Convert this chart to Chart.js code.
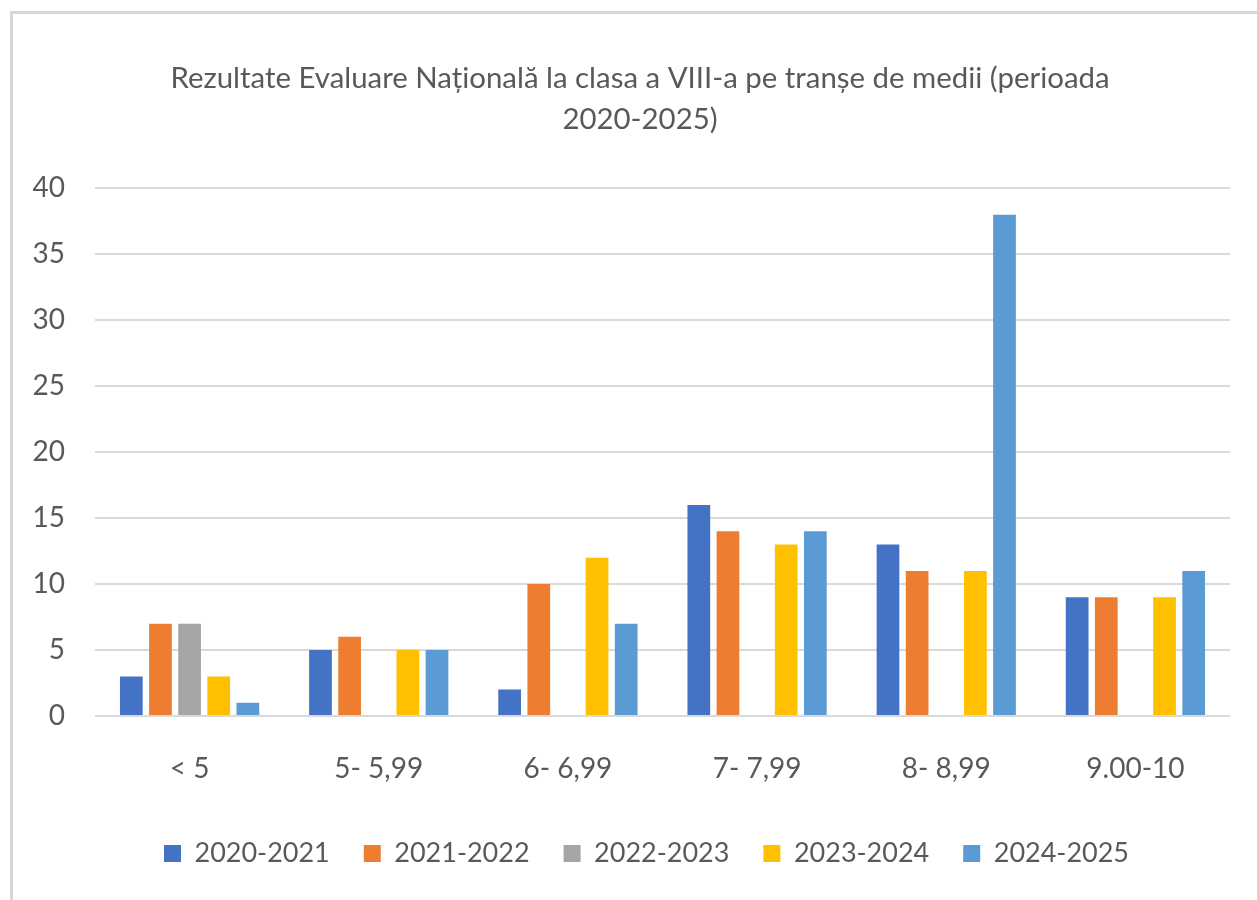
<!DOCTYPE html>
<html>
<head>
<meta charset="utf-8">
<script src="https://cdn.jsdelivr.net/npm/chart.js@4.4.1/dist/chart.umd.min.js"></script>
<style>
  html, body { margin: 0; padding: 0; background: #fff; overflow: hidden; }
  #frame {
    position: absolute; left: 10px; top: 11px;
    width: 1262px; height: 892px;
    border-left: 3px solid #d6d6d6; border-top: 3px solid #d6d6d6;
  }
  #box { position: relative; width: 1262px; height: 892px; }
</style>
</head>
<body>
<div id="frame"><div id="box"><canvas id="resultsChart"></canvas></div></div>
<script>
const categories = ['< 5', '5- 5,99', '6- 6,99', '7- 7,99', '8- 8,99', '9.00-10'];
const seriesNames = ['2020-2021', '2021-2022', '2022-2023', '2023-2024', '2024-2025'];
const values2020 = [3, 5, 2, 16, 13, 9];
const values2021 = [7, 6, 10, 14, 11, 9];
const values2022 = [7, null, null, null, null, null];
const values2023 = [3, 5, 12, 13, 11, 9];
const values2024 = [1, 5, 7, 14, 38, 11];
const yTicks = [0, 5, 10, 15, 20, 25, 30, 35, 40];
const colors = ['#4472C4', '#ED7D31', '#A5A5A5', '#FFC000', '#5B9BD5'];

const allValues = [values2020, values2021, values2022, values2023, values2024];
const fontFamily = "Lato, 'Open Sans', sans-serif";
const textColor = '#595959';

let chart = null;

// title and legend are centred a bit right of the plot in the original
const shiftBlocks = {
    id: 'shiftBlocks',
    afterLayout(c) {
        c.titleBlock.left += 37;
        c.legend.left += 50;
    }
};

function initChart() {
    const ctx = document.getElementById('resultsChart').getContext('2d');
    chart = new Chart(ctx, {
        type: 'bar',
        data: {
            labels: categories,
            datasets: seriesNames.map((name, i) => ({
                label: name,
                data: allValues[i],
                backgroundColor: colors[i],
                borderWidth: 0,
                categoryPercentage: 0.77,
                barPercentage: 0.78
            }))
        },
        options: {
            responsive: true,
            maintainAspectRatio: false,
            animation: false,
            layout: {
                padding: { left: 0, right: 45, top: 0, bottom: 29 }
            },
            plugins: {
                title: {
                    display: true,
                    text: ['Rezultate Evaluare Națională la clasa a VIII-a pe tranșe de medii (perioada', '2020-2025)'],
                    color: textColor,
                    font: { family: fontFamily, size: 29.4, weight: 'normal', lineHeight: 1.4 },
                    padding: { top: 44, bottom: 48 }
                },
                legend: {
                    position: 'bottom',
                    labels: {
                        color: textColor,
                        font: { family: fontFamily, size: 27 },
                        boxWidth: 17,
                        boxHeight: 17,
                        padding: 34
                    }
                },
                tooltip: { enabled: false }
            },
            scales: {
                x: {
                    grid: { display: false },
                    border: { display: false },
                    afterFit: scale => { scale.height = 90; },
                    ticks: {
                        color: textColor,
                        font: { family: fontFamily, size: 28 },
                        padding: 28
                    }
                },
                y: {
                    min: 0,
                    max: 40,
                    afterBuildTicks: axis => { axis.ticks = yTicks.map(v => ({ value: v })); },
                    afterFit: scale => { scale.width = 82; },
                    grid: { color: '#d9d9d9', lineWidth: 2, drawTicks: false },
                    border: { display: false },
                    ticks: {
                        color: textColor,
                        font: { family: fontFamily, size: 28 },
                        padding: 30
                    }
                }
            }
        },
        plugins: [shiftBlocks]
    });
}

document.addEventListener('DOMContentLoaded', function() {
    initChart();
});
</script>
</body>
</html>
